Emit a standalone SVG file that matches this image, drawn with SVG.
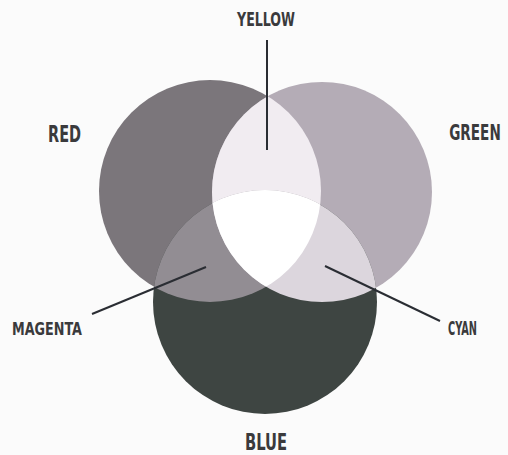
<svg xmlns="http://www.w3.org/2000/svg" width="508" height="455" viewBox="0 0 508 455">
<style>
.lbl{font-family:"DejaVu Sans Condensed","DejaVu Sans",sans-serif;font-weight:bold;fill:#3a3a3c;text-anchor:middle}
.conn{stroke:#2a2d33;stroke-width:2;fill:none}
</style>
<defs>
<clipPath id="cR"><circle cx="210" cy="191" r="111"/></clipPath>
<clipPath id="cG"><circle cx="322" cy="192" r="110"/></clipPath>
<clipPath id="cB"><circle cx="265" cy="302" r="112"/></clipPath>
</defs>
<rect width="508" height="455" fill="#fbfbfb"/>
<g id="red"><circle cx="210" cy="191" r="111" fill="#7b767b"/></g>
<g id="green"><circle cx="322" cy="192" r="110" fill="#b4acb6"/></g>
<g id="blue"><circle cx="265" cy="302" r="112" fill="#3e4542"/></g>
<g id="yellow-area"><circle cx="322" cy="192" r="110" fill="#f1ecf1" clip-path="url(#cR)"/></g>
<g id="magenta-area"><circle cx="265" cy="302" r="112" fill="#928d93" clip-path="url(#cR)"/></g>
<g id="cyan-area"><circle cx="265" cy="302" r="112" fill="#dcd6dd" clip-path="url(#cG)"/></g>
<g id="white-area" clip-path="url(#cR)"><circle cx="265" cy="302" r="112" fill="#ffffff" clip-path="url(#cG)"/></g>
<g id="connectors">
<line class="conn" x1="267" y1="40" x2="267" y2="150"/>
<line class="conn" x1="92" y1="314" x2="206" y2="267"/>
<line class="conn" x1="325" y1="266" x2="440" y2="321"/>
</g>
<g id="label-yellow"><text class="lbl" x="266" y="26" font-size="19" textLength="58" lengthAdjust="spacingAndGlyphs">YELLOW</text></g>
<g id="label-red"><text class="lbl" x="64.5" y="142" font-size="23" textLength="33" lengthAdjust="spacingAndGlyphs">RED</text></g>
<g id="label-green"><text class="lbl" transform="translate(475,140) scale(0.72,1)" x="0" y="0" font-size="21">GREEN</text></g>
<g id="label-magenta"><text class="lbl" x="47" y="335" font-size="18" textLength="70" lengthAdjust="spacingAndGlyphs">MAGENTA</text></g>
<g id="label-cyan"><text class="lbl" x="462.5" y="335" font-size="19" textLength="29" lengthAdjust="spacingAndGlyphs">CYAN</text></g>
<g id="label-blue"><text class="lbl" x="266" y="450" font-size="23" textLength="42" lengthAdjust="spacingAndGlyphs">BLUE</text></g>
</svg>
